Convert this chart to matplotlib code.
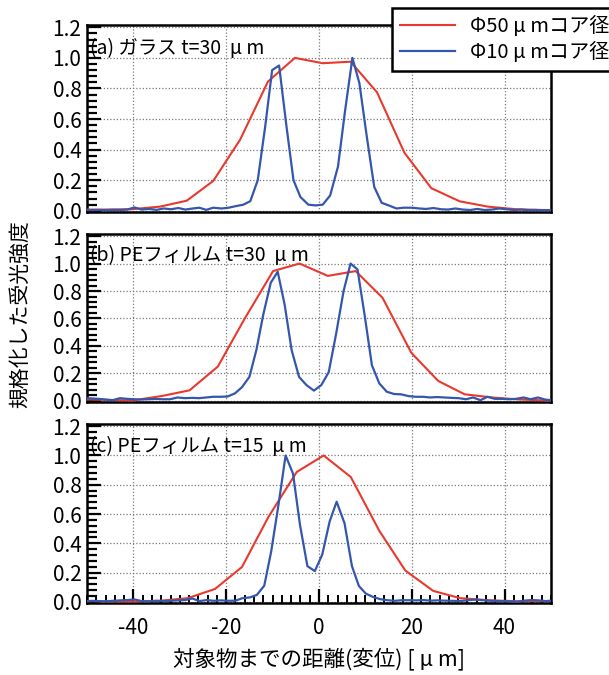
import matplotlib
matplotlib.use("Agg")
import matplotlib.pyplot as plt
from matplotlib.ticker import MultipleLocator, FormatStrFormatter

plt.rcParams["font.family"] = ["Noto Sans CJK JP", "DejaVu Sans"]
plt.rcParams["axes.unicode_minus"] = False

RED = "#e8392e"
BLUE = "#3456ac"
GRID = "#7a7a7a"

# ---- data ----
panel_labels = ["(a) ガラス t=30  μ m", "(b) PEフィルム t=30  μ m", "(c) PEフィルム t=15  μ m"]
legend_labels = ["Φ50 μ mコア径", "Φ10 μ mコア径"]
x_label = "対象物までの距離(変位) [ μ m]"
y_label = "規格化した受光強度"

# Φ50 µm core (coarse scan)
red_x_a = [-50.0, -46.4, -40.4, -34.3, -28.5, -22.8, -17.0, -11.0, -5.2, 0.8, 6.8,
           12.5, 18.4, 24.2, 30.3, 36.4, 42.5, 48.5, 50.0]
red_y_a = [0.008, 0.008, 0.010, 0.027, 0.066, 0.195, 0.465, 0.845, 1.0, 0.965, 0.975,
           0.775, 0.380, 0.148, 0.062, 0.027, 0.010, 0.005, 0.005]

red_x_b = [-50.0, -46.2, -40.2, -33.8, -27.9, -21.8, -16.0, -9.9, -4.2, 1.9, 7.9,
           13.7, 19.9, 25.7, 31.4, 37.6, 43.3, 49.5, 50.0]
red_y_b = [0.010, 0.008, 0.003, 0.036, 0.077, 0.250, 0.600, 0.945, 1.0, 0.910, 0.945,
           0.750, 0.350, 0.145, 0.048, 0.024, 0.010, 0.003, 0.003]

red_x_c = [-50.0, -46.3, -40.2, -34.4, -28.3, -22.4, -16.6, -10.9, -4.8, 1.0, 6.85,
           13.0, 18.6, 24.6, 30.4, 36.5, 42.6, 48.5, 50.0]
red_y_c = [0.005, 0.003, 0.002, 0.007, 0.025, 0.088, 0.238, 0.580, 0.887, 1.0, 0.853,
           0.485, 0.214, 0.075, 0.025, 0.011, 0.004, 0.005, 0.005]

# Φ10 µm core (fine scan)
blue_x_a = [-50.0, -49.2, -47.6, -46.0, -44.5, -42.9, -41.3, -39.8, -38.2, -36.6, -35.0,
            -33.5, -31.9, -30.3, -28.8, -27.2, -25.8, -24.3, -22.8, -21.0, -19.5, -18.0,
            -16.3, -14.8, -13.2, -11.6, -10.1, -8.6, -7.0, -5.5, -4.0, -2.3, -0.75, 0.8,
            2.4, 4.1, 5.6, 7.2, 8.7, 10.3, 11.9, 13.5, 15.2, 16.7, 18.2, 20.0, 21.6, 23.1,
            24.7, 26.3, 27.8, 29.4, 31.0, 32.6, 34.1, 35.7, 37.3, 38.8, 40.4, 42.0, 43.5,
            45.1, 46.7, 48.2, 49.8]
blue_y_a = [0.005, 0.004, 0.005, 0.004, 0.006, 0.005, 0.008, 0.022, 0.008, 0.012, 0.006,
            0.015, 0.010, 0.018, 0.008, 0.015, 0.020, 0.006, 0.020, 0.015, 0.020, 0.030,
            0.040, 0.063, 0.200, 0.550, 0.920, 0.950, 0.550, 0.200, 0.090, 0.040, 0.035, 0.040,
            0.100, 0.290, 0.650, 1.0, 0.835, 0.485, 0.157, 0.052, 0.033, 0.015, 0.020, 0.020, 0.015, 0.012,
            0.018, 0.010, 0.008, 0.015, 0.008, 0.005, 0.012, 0.005, 0.008, 0.015, 0.010, 0.005, 0.008,
            0.004, 0.005, 0.003, 0.004]

blue_x_b = [-50.0, -49.1, -47.6, -46.0, -44.5, -42.9, -41.4, -39.8, -38.3, -36.7, -35.2,
            -33.6, -32.1, -30.5, -29.0, -27.4, -25.9, -24.3, -22.8, -21.2, -19.7, -18.1,
            -16.6, -15.0, -13.5, -12.0, -10.4, -8.9, -7.4, -5.9, -4.3, -2.7, -1.1, 0.5,
            2.1, 3.7, 5.3, 6.8, 8.3, 9.9, 11.4, 13.0, 14.6, 16.2, 17.7, 19.3, 20.8, 22.4,
            23.9, 25.5, 27.0, 28.6, 30.1, 31.7, 33.2, 34.8, 36.3, 37.9, 39.4, 41.0, 42.5,
            44.1, 45.6, 47.2, 48.7, 50.0]
blue_y_b = [0.020, 0.018, 0.015, 0.010, 0.005, 0.020, 0.015, 0.012, 0.010, 0.012, 0.014,
            0.012, 0.012, 0.025, 0.020, 0.022, 0.020, 0.025, 0.030, 0.030, 0.032, 0.055,
            0.100, 0.175, 0.370, 0.630, 0.860, 0.940, 0.700, 0.370, 0.175, 0.115, 0.075, 0.115,
            0.210, 0.490, 0.800, 1.0, 0.957, 0.610, 0.260, 0.127, 0.067, 0.050, 0.048, 0.035, 0.030, 0.030,
            0.025, 0.028, 0.025, 0.022, 0.020, 0.012, 0.025, 0.005, 0.030, 0.015, 0.015, 0.012, 0.015,
            0.025, 0.012, 0.025, 0.010, 0.005]

blue_x_c = [-50.0, -49.0, -47.5, -45.9, -44.4, -42.8, -41.3, -39.7, -38.2, -36.6, -35.1,
            -33.5, -32.0, -30.4, -28.9, -27.3, -25.8, -24.2, -22.7, -21.1, -19.6, -18.0,
            -16.5, -14.9, -13.4, -11.8, -10.3, -8.7, -7.2, -5.6, -4.1, -2.5, -0.9, 0.7,
            2.3, 3.8, 5.5, 7.1, 8.6, 10.1, 11.6, 13.2, 14.8, 16.3, 17.9, 19.4, 21.0, 22.5,
            24.1, 25.6, 27.2, 28.7, 30.3, 31.8, 33.4, 34.9, 36.5, 38.0, 39.6, 41.1, 42.7,
            44.2, 45.8, 47.3, 48.9, 50.0]
blue_y_c = [0.003, 0.007, 0.005, 0.003, 0.007, 0.010, 0.012, 0.016, 0.005, 0.003, 0.007,
            0.005, 0.007, 0.010, 0.012, 0.023, 0.005, 0.012, 0.007, 0.010, 0.007, 0.008,
            0.025, 0.030, 0.047, 0.110, 0.345, 0.670, 1.0, 0.876, 0.526, 0.244, 0.210, 0.323,
            0.550, 0.684, 0.537, 0.244, 0.108, 0.056, 0.034, 0.018, 0.011, 0.007, 0.011, 0.011, 0.010, 0.012,
            0.008, 0.010, 0.008, 0.007, 0.005, 0.010, 0.015, 0.012, 0.008, 0.005, 0.004, 0.003, 0.000,
            0.008, 0.012, 0.010, 0.005, 0.008]

red_x = [red_x_a, red_x_b, red_x_c]
red_y = [red_y_a, red_y_b, red_y_c]
blue_x = [blue_x_a, blue_x_b, blue_x_c]
blue_y = [blue_y_a, blue_y_b, blue_y_c]

# ---- layout (pixel-matched axes boxes) ----
W, H = 609, 675
boxes = [(25, 212), (234, 402), (424, 603)]  # (top, bottom) in px
left_px, right_px = 87, 551

fig = plt.figure(figsize=(W / 100, H / 100), dpi=100)

axes = []
for i, (top, bot) in enumerate(boxes):
    ax = fig.add_axes([left_px / W, 1 - bot / H, (right_px - left_px) / W, (bot - top) / H])
    axes.append(ax)
    l1, = ax.plot(red_x[i], red_y[i], color=RED, lw=1.5, zorder=3)
    l2, = ax.plot(blue_x[i], blue_y[i], color=BLUE, lw=1.6, zorder=3)

    ax.set_xlim(-50, 50)
    ax.set_ylim(-0.008, 1.215)
    ax.xaxis.set_major_locator(MultipleLocator(20))
    ax.xaxis.set_minor_locator(MultipleLocator(2))
    ax.yaxis.set_major_locator(MultipleLocator(0.2))
    ax.yaxis.set_minor_locator(MultipleLocator(0.04))
    ax.yaxis.set_major_formatter(FormatStrFormatter("%.1f"))

    ax.grid(True, which="major", linestyle=(0, (1, 1.6)), linewidth=0.9, color=GRID)
    ax.set_axisbelow(True)

    ax.tick_params(axis="y", which="major", direction="in", length=10, width=1.6,
                   labelsize=15, pad=4, left=True, right=False)
    ax.tick_params(axis="y", which="minor", direction="in", length=7, width=1.6,
                   left=True, right=False)
    if i < 2:
        ax.tick_params(axis="x", which="both", length=0, labelbottom=False)
    else:
        ax.tick_params(axis="x", which="major", direction="in", length=10, width=1.6,
                       labelsize=15, pad=10)
        ax.tick_params(axis="x", which="minor", direction="in", length=6, width=1.4)

    for side in ["left", "right", "top", "bottom"]:
        ax.spines[side].set_linewidth(1.8)
        ax.spines[side].set_color("black")

    ax.text(-49.4, 1.06, panel_labels[i], fontsize=14, ha="left", va="center", zorder=4)

axes[2].set_xlabel(x_label, fontsize=15.5, labelpad=6)
fig.text(20 / W, 1 - 314 / H, y_label, rotation=90, fontsize=15, ha="center", va="center")

leg = fig.legend([l1, l2], legend_labels, loc="upper left",
                 bbox_to_anchor=(392 / W, 1 - 8 / H), fontsize=14.5,
                 frameon=True, fancybox=False, framealpha=1, edgecolor="black",
                 handlelength=2.75, handletextpad=0.7, labelspacing=0.22,
                 borderpad=0.4, borderaxespad=0)
leg.get_frame().set_linewidth(1.8)

fig.savefig("out.png", dpi=100)
